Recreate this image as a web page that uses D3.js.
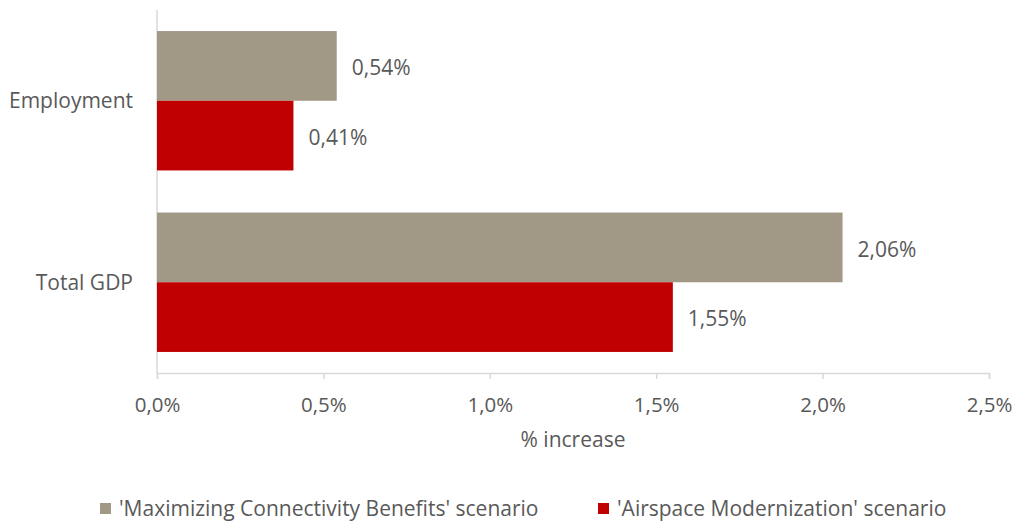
<!DOCTYPE html>
<html><head><meta charset="utf-8">
<script src="https://cdn.jsdelivr.net/npm/d3@7"></script>
<style>body{margin:0;background:#fff;} text{font-family:"Open Sans",sans-serif;fill:#595959;}</style>
</head><body><svg id="c" width="1016" height="525"></svg>
<script>
const categories = ["Employment", "Total GDP"];
const seriesNames = ["'Maximizing Connectivity Benefits' scenario", "'Airspace Modernization' scenario"];
const maximizing = [0.54, 2.06];
const airspace = [0.41, 1.55];
const xTicks = [0, 0.5, 1.0, 1.5, 2.0, 2.5];
const colors = ["#A29886", "#C00000"];

const svg = d3.select("#c");
const x = d3.scaleLinear().domain([0, 2.5]).range([157, 989]);
const y = d3.scaleBand().domain(categories).range([10, 373]).paddingInner(0.232).paddingOuter(0.116);
const inner = d3.scaleBand().domain([0,1]).range([0, y.bandwidth()]);
const fmt = v => v.toFixed(2).replace(".", ",") + "%";
const fmtTick = v => v.toFixed(1).replace(".", ",") + "%";

const xa = svg.append("g").attr("transform","translate(0,373)")
  .call(d3.axisBottom(x).tickValues(xTicks).tickSize(6).tickFormat(fmtTick));
xa.select(".domain").attr("stroke","#d9d9d9").attr("stroke-width",1.5);
xa.selectAll(".tick line").attr("stroke","#d9d9d9").attr("stroke-width",1.5);
xa.selectAll(".tick text").attr("font-size",20.5).attr("dy","0.35em").attr("y",32).attr("fill","#595959").style("font-family","Open Sans");

svg.append("line").attr("x1",157).attr("x2",157).attr("y1",10).attr("y2",373).attr("stroke","#d9d9d9").attr("stroke-width",1.5);

const data = categories.map((c,i)=>({c, vals:[maximizing[i], airspace[i]]}));
const g = svg.selectAll(".grp").data(data).enter().append("g").attr("transform",d=>`translate(0,${y(d.c)})`);
g.selectAll("rect").data(d=>d.vals).enter().append("rect")
  .attr("x", x(0)).attr("y",(d,i)=>inner(i)).attr("width",d=>x(d)-x(0)).attr("height",inner.bandwidth())
  .attr("fill",(d,i)=>colors[i]);
g.selectAll("text.v").data(d=>d.vals).enter().append("text")
  .attr("x",d=>x(d)+15).attr("y",(d,i)=>inner(i)+inner.bandwidth()/2+2).attr("dy","0.35em")
  .attr("font-size",21).text(fmt);

svg.selectAll("text.cat").data(categories).enter().append("text")
  .attr("x",133).attr("y",d=>y(d)+y.bandwidth()/2).attr("dy","0.35em").attr("text-anchor","end")
  .attr("font-size",21).text(d=>d);

svg.append("text").attr("x",573).attr("y",440).attr("dy","0.35em").attr("text-anchor","middle").attr("font-size",21).text("% increase");

const leg = [{x:100, tx:119}, {x:598, tx:617}];
seriesNames.forEach((n,i)=>{
  svg.append("rect").attr("x",leg[i].x).attr("y",503).attr("width",11).attr("height",11).attr("fill",colors[i]);
  svg.append("text").attr("x",leg[i].tx).attr("y",509).attr("dy","0.35em").attr("font-size",21).text(n);
});
</script></body></html>
